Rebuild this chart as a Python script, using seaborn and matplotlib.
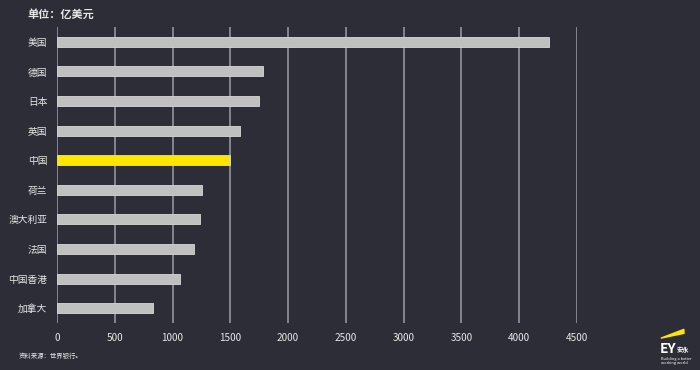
import pandas as pd
import matplotlib.pyplot as plt
import seaborn as sns
from matplotlib.patches import Polygon

# Data (unit: 100 million USD)
countries = ['美国', '德国', '日本', '英国', '中国', '荷兰', '澳大利亚', '法国', '中国香港', '加拿大']
values = [4255, 1785, 1750, 1585, 1497, 1258, 1235, 1188, 1067, 833]
highlight = '中国'
x_ticks = [0, 500, 1000, 1500, 2000, 2500, 3000, 3500, 4000, 4500]

BG = '#2d2d37'
BAR = '#c0c0c0'
YELLOW = '#ffe600'
TEXT = '#e6e6e6'

df = pd.DataFrame({'country': countries, 'value': values})
palette = {c: (YELLOW if c == highlight else BAR) for c in countries}

sns.set_theme(style='white')
plt.rcParams['font.family'] = ['Noto Sans CJK SC', 'DejaVu Sans']

fig = plt.figure(figsize=(7, 3.7), dpi=100, facecolor=BG)
ax = fig.add_axes([0.0814, 0.127, 0.7429, 0.8])
ax.set_facecolor(BG)

# vertical grid lines
for t in x_ticks:
    ax.axvline(t, color='#8c8c96', lw=1.3, zorder=0)

sns.barplot(data=df, x='value', y='country', hue='country', palette=palette,
            order=countries, width=0.34, legend=False, ax=ax, zorder=2,
            saturation=1, edgecolor='#d8d8d8', linewidth=0.6)

ax.set_xlim(0, 4500)
ax.set_ylim(len(countries) - 0.5, -0.5)
ax.set_xticks(x_ticks)
ax.set_xticklabels([str(t) for t in x_ticks])
ax.tick_params(axis='both', length=0, colors=TEXT)
ax.tick_params(axis='x', pad=7, labelsize=7.2)
ax.tick_params(axis='y', pad=7, labelsize=7)
ax.set_xlabel('')
ax.set_ylabel('')
for s in ax.spines.values():
    s.set_visible(False)

fig.text(0.039, 0.962, '单位：亿美元', color=TEXT, fontsize=8, fontweight='bold',
         ha='left', va='center')
fig.text(0.026, 0.038, '资料来源：世界银行。', color=TEXT, fontsize=4.6, style='italic',
         ha='left', va='center')

# EY logo
fig.patches.append(Polygon([[0.944, 0.086], [0.977, 0.110], [0.977, 0.099]],
                           closed=True, transform=fig.transFigure, color=YELLOW))
fig.text(0.943, 0.057, 'EY', color='white', fontsize=10, fontweight='bold',
         ha='left', va='center')
fig.text(0.966, 0.055, '安永', color='white', fontsize=4.5, fontweight='bold',
         ha='left', va='center')
fig.text(0.944, 0.025, 'Building a better\nworking world', color='white', fontsize=2.8,
         ha='left', va='center', linespacing=1.0)

fig.savefig('out.png', dpi=100, facecolor=BG)
